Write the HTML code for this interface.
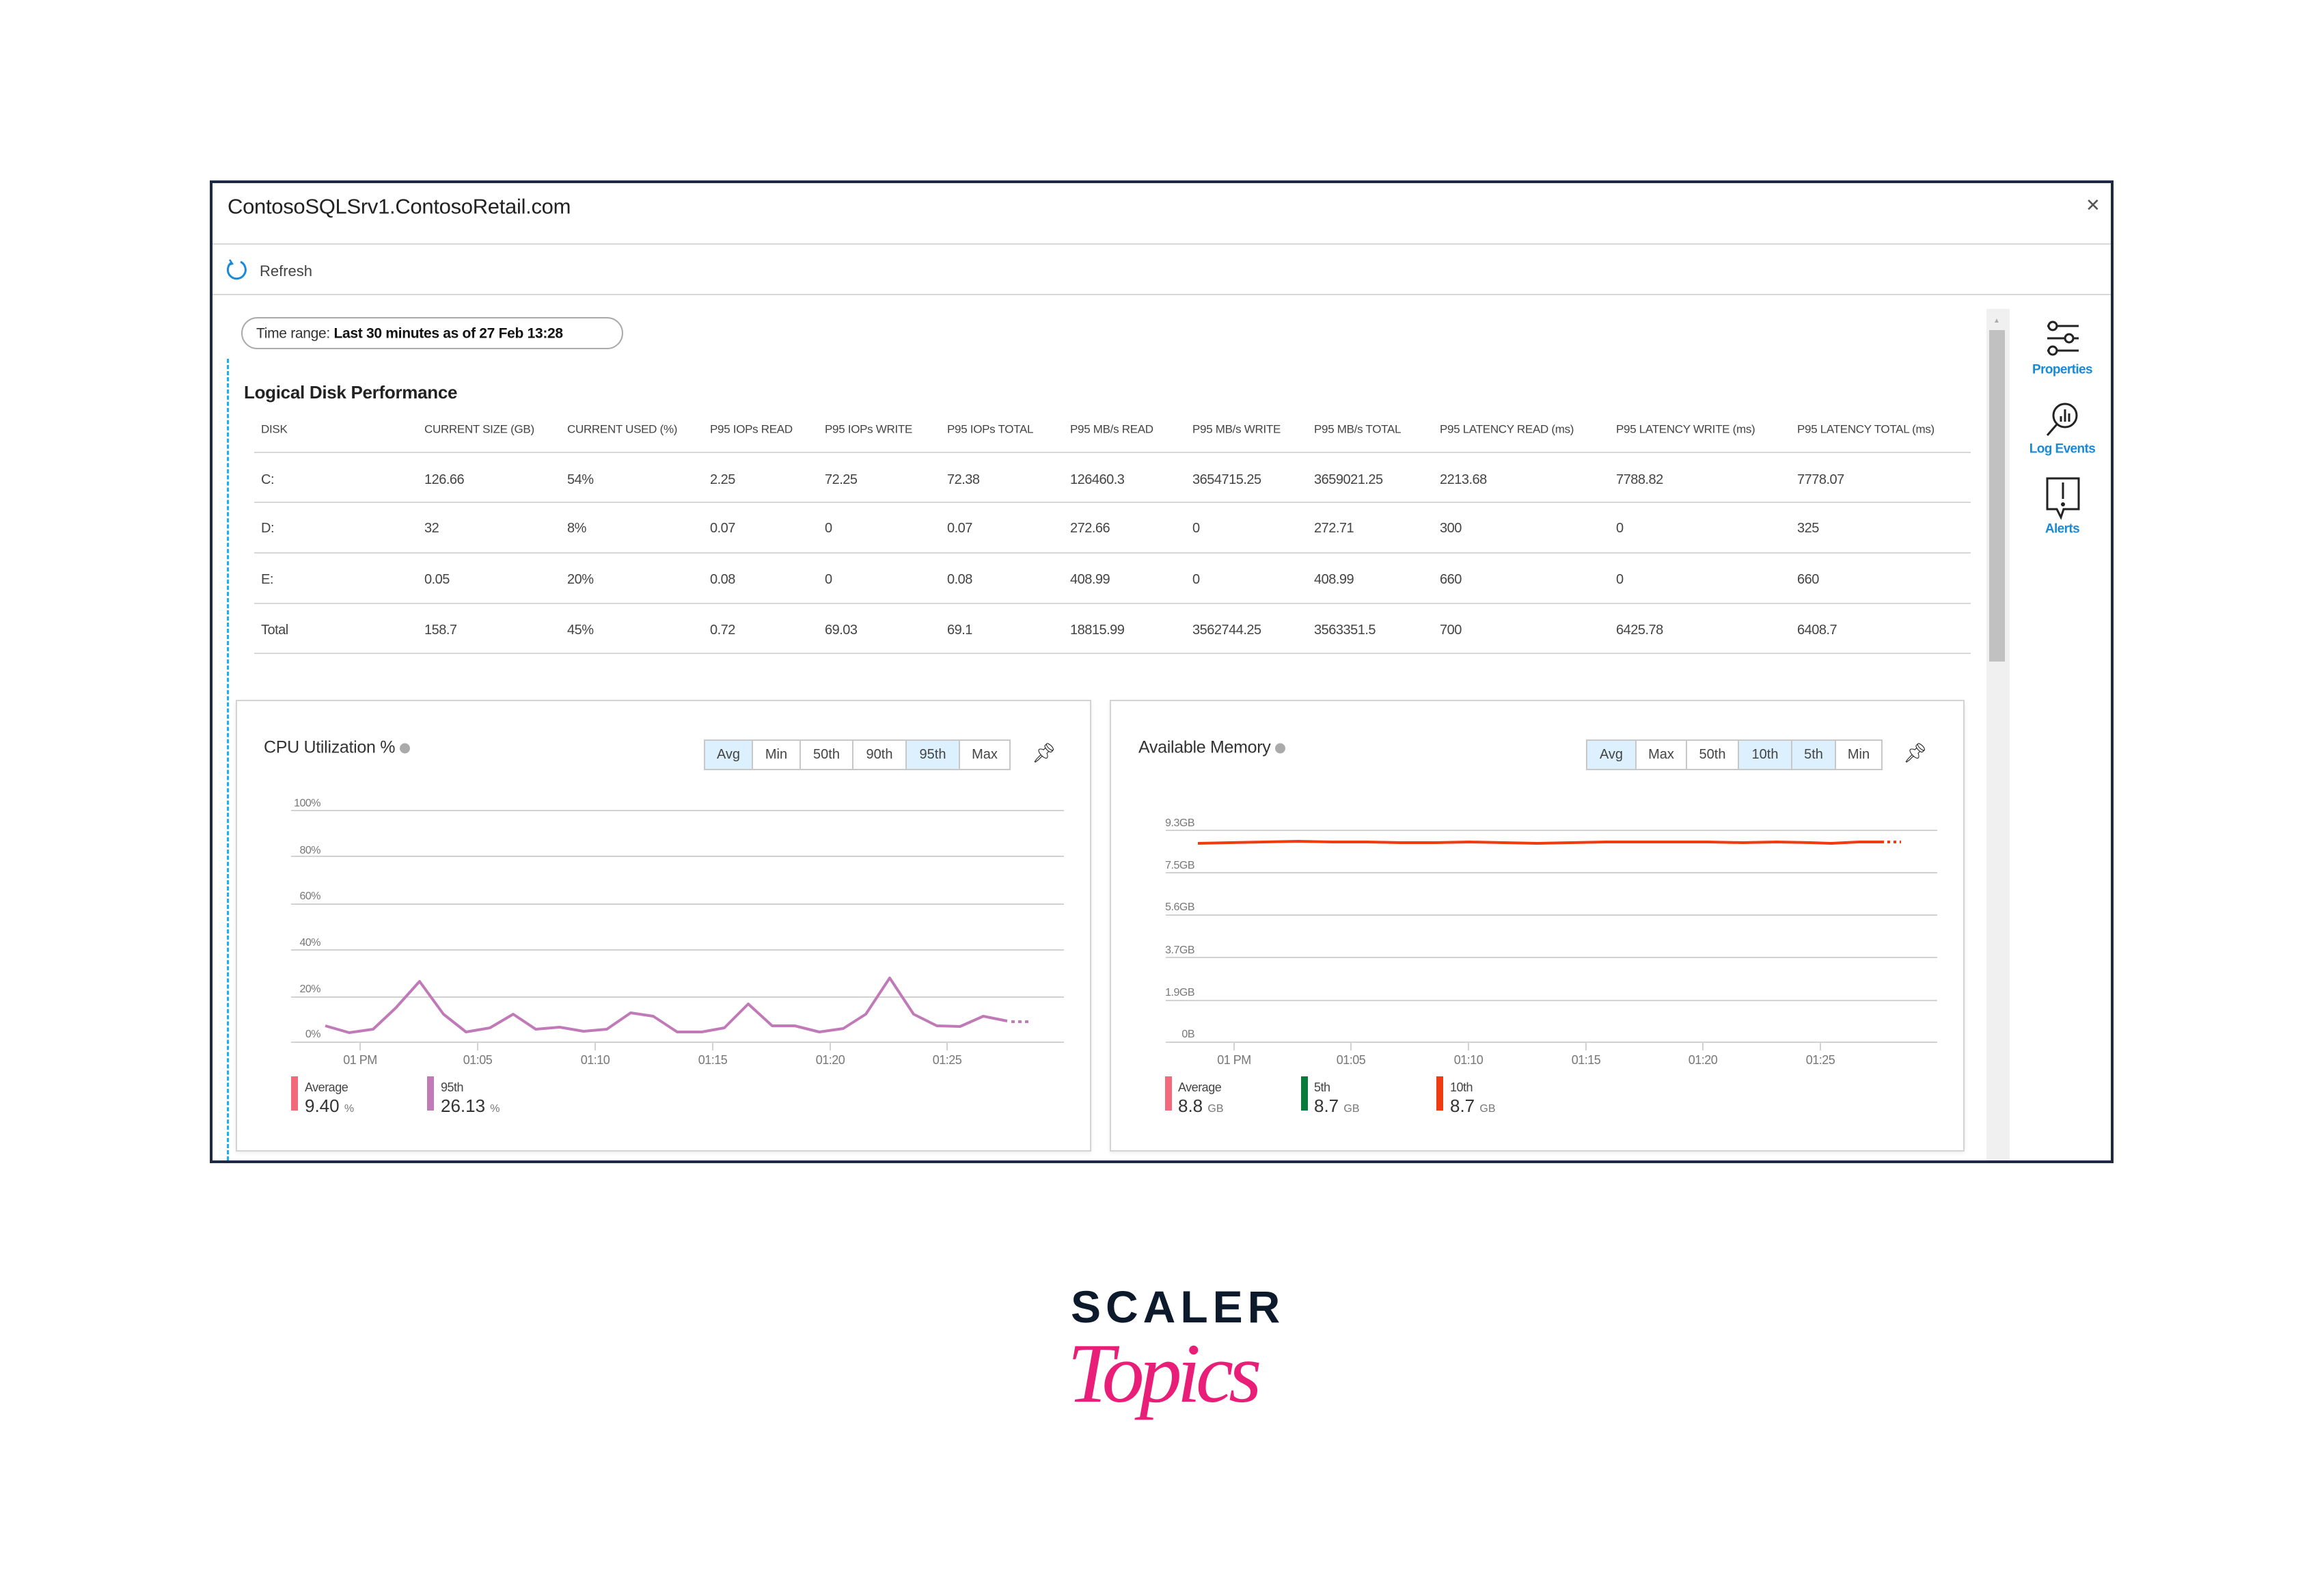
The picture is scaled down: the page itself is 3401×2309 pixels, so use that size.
<!DOCTYPE html>
<html><head><meta charset="utf-8"><style>
body{margin:0;width:3401px;height:2309px;background:#fff;position:relative;overflow:hidden;font-family:"Liberation Sans",sans-serif;color:#333}
.a{position:absolute}
.t{position:absolute;transform:translateY(-50%);white-space:nowrap;line-height:1}
.h{font-size:17px;color:#444;letter-spacing:-0.3px}
.r{font-size:20px;color:#444;letter-spacing:-0.5px}
.hl{position:absolute;height:2px;background:#d8d8d8}
.yl{font-size:16px;color:#777;text-align:right;width:80px;letter-spacing:-0.5px}
.xl{font-size:18px;color:#777;transform:translate(-50%,-50%);letter-spacing:-0.5px}
.btn{position:absolute;top:1082px;height:45px;border:2px solid #c8c8c8;box-sizing:border-box;font-size:20px;color:#444;text-align:center;line-height:41px;background:#fff}
.on{background:#dcf0fd}
</style></head><body>
<div class="a" style="left:307px;top:264px;width:2786px;height:1438px;border:4px solid #1e2a44;box-sizing:border-box"></div>
<div class="t" style="left:333px;top:302px;font-size:31px;color:#222;letter-spacing:-0.3px">ContosoSQLSrv1.ContosoRetail.com</div>
<div class="t" style="left:3052px;top:300px;font-size:26px;color:#555">&#x2715;</div>
<div class="hl" style="left:311px;top:356px;width:2778px"></div>
<svg class="a" style="left:330px;top:378px" width="34" height="34"><path d="M9 6 A13 13 0 1 0 22 5" fill="none" stroke="#1a8ad8" stroke-width="3"/><path d="M6 2 L10 8 L4 10" fill="none" stroke="#1a8ad8" stroke-width="2.5"/></svg>
<div class="t" style="left:380px;top:397px;font-size:22px;color:#444">Refresh</div>
<div class="hl" style="left:311px;top:430px;width:2778px"></div>
<div class="a" style="left:353px;top:464px;width:559px;height:47px;border:2px solid #aaa;border-radius:24px;box-sizing:border-box"></div>
<div class="t" style="left:375px;top:488px;font-size:21px;color:#333;letter-spacing:-0.3px">Time range: <b style="color:#111">Last 30 minutes as of 27 Feb 13:28</b></div>
<div class="a" style="left:332px;top:525px;height:1173px;border-left:3px dashed #1ab0f0"></div>
<div class="t" style="left:357px;top:574px;font-size:26px;font-weight:bold;color:#222;letter-spacing:-0.3px">Logical Disk Performance</div>
<div class="t h" style="left:382px;top:628px">DISK</div>
<div class="t h" style="left:621px;top:628px">CURRENT SIZE (GB)</div>
<div class="t h" style="left:830px;top:628px">CURRENT USED (%)</div>
<div class="t h" style="left:1039px;top:628px">P95 IOPs READ</div>
<div class="t h" style="left:1207px;top:628px">P95 IOPs WRITE</div>
<div class="t h" style="left:1386px;top:628px">P95 IOPs TOTAL</div>
<div class="t h" style="left:1566px;top:628px">P95 MB/s READ</div>
<div class="t h" style="left:1745px;top:628px">P95 MB/s WRITE</div>
<div class="t h" style="left:1923px;top:628px">P95 MB/s TOTAL</div>
<div class="t h" style="left:2107px;top:628px">P95 LATENCY READ (ms)</div>
<div class="t h" style="left:2365px;top:628px">P95 LATENCY WRITE (ms)</div>
<div class="t h" style="left:2630px;top:628px">P95 LATENCY TOTAL (ms)</div>
<div class="hl" style="left:372px;top:661px;width:2512px"></div>
<div class="hl" style="left:372px;top:734px;width:2512px"></div>
<div class="hl" style="left:372px;top:808px;width:2512px"></div>
<div class="hl" style="left:372px;top:882px;width:2512px"></div>
<div class="hl" style="left:372px;top:955px;width:2512px"></div>

<div class="t r" style="left:382px;top:702px">C:</div><div class="t r" style="left:621px;top:702px">126.66</div><div class="t r" style="left:830px;top:702px">54%</div><div class="t r" style="left:1039px;top:702px">2.25</div><div class="t r" style="left:1207px;top:702px">72.25</div><div class="t r" style="left:1386px;top:702px">72.38</div><div class="t r" style="left:1566px;top:702px">126460.3</div><div class="t r" style="left:1745px;top:702px">3654715.25</div><div class="t r" style="left:1923px;top:702px">3659021.25</div><div class="t r" style="left:2107px;top:702px">2213.68</div><div class="t r" style="left:2365px;top:702px">7788.82</div><div class="t r" style="left:2630px;top:702px">7778.07</div>
<div class="t r" style="left:382px;top:773px">D:</div><div class="t r" style="left:621px;top:773px">32</div><div class="t r" style="left:830px;top:773px">8%</div><div class="t r" style="left:1039px;top:773px">0.07</div><div class="t r" style="left:1207px;top:773px">0</div><div class="t r" style="left:1386px;top:773px">0.07</div><div class="t r" style="left:1566px;top:773px">272.66</div><div class="t r" style="left:1745px;top:773px">0</div><div class="t r" style="left:1923px;top:773px">272.71</div><div class="t r" style="left:2107px;top:773px">300</div><div class="t r" style="left:2365px;top:773px">0</div><div class="t r" style="left:2630px;top:773px">325</div>
<div class="t r" style="left:382px;top:848px">E:</div><div class="t r" style="left:621px;top:848px">0.05</div><div class="t r" style="left:830px;top:848px">20%</div><div class="t r" style="left:1039px;top:848px">0.08</div><div class="t r" style="left:1207px;top:848px">0</div><div class="t r" style="left:1386px;top:848px">0.08</div><div class="t r" style="left:1566px;top:848px">408.99</div><div class="t r" style="left:1745px;top:848px">0</div><div class="t r" style="left:1923px;top:848px">408.99</div><div class="t r" style="left:2107px;top:848px">660</div><div class="t r" style="left:2365px;top:848px">0</div><div class="t r" style="left:2630px;top:848px">660</div>
<div class="t r" style="left:382px;top:922px">Total</div><div class="t r" style="left:621px;top:922px">158.7</div><div class="t r" style="left:830px;top:922px">45%</div><div class="t r" style="left:1039px;top:922px">0.72</div><div class="t r" style="left:1207px;top:922px">69.03</div><div class="t r" style="left:1386px;top:922px">69.1</div><div class="t r" style="left:1566px;top:922px">18815.99</div><div class="t r" style="left:1745px;top:922px">3562744.25</div><div class="t r" style="left:1923px;top:922px">3563351.5</div><div class="t r" style="left:2107px;top:922px">700</div><div class="t r" style="left:2365px;top:922px">6425.78</div><div class="t r" style="left:2630px;top:922px">6408.7</div>

<div class="a" style="left:2907px;top:452px;width:34px;height:1246px;background:#f0f0f0"></div>
<div class="a" style="left:2911px;top:483px;width:23px;height:485px;background:#c1c1c1"></div>
<div class="t" style="left:2917px;top:470px;font-size:10px;color:#aaa">&#9650;</div>

<svg class="a" style="left:2990px;top:465px" width="60" height="300">
<g stroke="#222" stroke-width="3" fill="#fff">
<line x1="6" y1="12" x2="52" y2="12"/><line x1="6" y1="30" x2="52" y2="30"/><line x1="6" y1="48" x2="52" y2="48"/>
<circle cx="14" cy="12" r="6"/><circle cx="38" cy="30" r="6"/><circle cx="14" cy="48" r="6"/>
<circle cx="32" cy="143" r="17"/><line x1="20" y1="156" x2="6" y2="172"/>
<path d="M6 235 H52 V280 H30 L26 292 L20 280 H6 Z"/>
</g>
<g stroke="#222" stroke-width="3"><line x1="26" y1="152" x2="26" y2="144"/><line x1="32" y1="152" x2="32" y2="134"/><line x1="38" y1="152" x2="38" y2="140"/><line x1="29" y1="241" x2="29" y2="265"/></g>
<circle cx="29" cy="273" r="3" fill="#222"/>
</svg>
<div class="t" style="left:3018px;top:541px;font-size:19px;color:#1a8ad8;font-weight:bold;transform:translate(-50%,-50%);letter-spacing:-0.6px">Properties</div>
<div class="t" style="left:3018px;top:657px;font-size:19px;color:#1a8ad8;font-weight:bold;transform:translate(-50%,-50%);letter-spacing:-0.6px">Log Events</div>
<div class="t" style="left:3018px;top:774px;font-size:19px;color:#1a8ad8;font-weight:bold;transform:translate(-50%,-50%);letter-spacing:-0.6px">Alerts</div>

<div class="a" style="left:345px;top:1024px;width:1252px;height:661px;border:2px solid #d4d4d4;box-sizing:border-box;box-shadow:0 2px 6px rgba(0,0,0,0.08)"></div>
<div class="t" style="left:386px;top:1094px;font-size:25px;color:#333;letter-spacing:-0.3px">CPU Utilization % <span style="display:inline-block;width:15px;height:15px;border-radius:8px;background:#aaa;vertical-align:middle"></span></div>
<div class="btn on" style="left:1030px;width:72px">Avg</div>
<div class="btn" style="left:1100px;width:72px">Min</div>
<div class="btn" style="left:1170px;width:79px">50th</div>
<div class="btn" style="left:1247px;width:80px">90th</div>
<div class="btn on" style="left:1325px;width:80px">95th</div>
<div class="btn" style="left:1403px;width:76px">Max</div>
<div class="t" style="left:1510px;top:1102px;font-size:28px;color:#222">&#x1F4CC;&#xFE0E;</div>

<div class="t yl" style="left:389px;top:1176px">100%</div>
<div class="t yl" style="left:389px;top:1245px">80%</div>
<div class="t yl" style="left:389px;top:1312px">60%</div>
<div class="t yl" style="left:389px;top:1380px">40%</div>
<div class="t yl" style="left:389px;top:1448px">20%</div>
<div class="t yl" style="left:389px;top:1514px">0%</div>
<div class="t xl" style="left:527px;top:1551px">01 PM</div>
<div class="t xl" style="left:699px;top:1551px">01:05</div>
<div class="t xl" style="left:871px;top:1551px">01:10</div>
<div class="t xl" style="left:1043px;top:1551px">01:15</div>
<div class="t xl" style="left:1215px;top:1551px">01:20</div>
<div class="t xl" style="left:1386px;top:1551px">01:25</div>

<div class="a" style="left:1624px;top:1024px;width:1251px;height:661px;border:2px solid #d4d4d4;box-sizing:border-box;box-shadow:0 2px 6px rgba(0,0,0,0.08)"></div>
<div class="t" style="left:1666px;top:1094px;font-size:25px;color:#333;letter-spacing:-0.3px">Available Memory <span style="display:inline-block;width:15px;height:15px;border-radius:8px;background:#aaa;vertical-align:middle"></span></div>
<div class="btn on" style="left:2321px;width:74px">Avg</div>
<div class="btn" style="left:2393px;width:76px">Max</div>
<div class="btn" style="left:2467px;width:78px">50th</div>
<div class="btn on" style="left:2543px;width:80px">10th</div>
<div class="btn on" style="left:2621px;width:66px">5th</div>
<div class="btn" style="left:2685px;width:70px">Min</div>
<div class="t" style="left:2785px;top:1102px;font-size:28px;color:#222">&#x1F4CC;&#xFE0E;</div>

<div class="t yl" style="left:1668px;top:1205px">9.3GB</div>
<div class="t yl" style="left:1668px;top:1267px">7.5GB</div>
<div class="t yl" style="left:1668px;top:1328px">5.6GB</div>
<div class="t yl" style="left:1668px;top:1391px">3.7GB</div>
<div class="t yl" style="left:1668px;top:1453px">1.9GB</div>
<div class="t yl" style="left:1668px;top:1514px">0B</div>
<div class="t xl" style="left:1806px;top:1551px">01 PM</div>
<div class="t xl" style="left:1977px;top:1551px">01:05</div>
<div class="t xl" style="left:2149px;top:1551px">01:10</div>
<div class="t xl" style="left:2321px;top:1551px">01:15</div>
<div class="t xl" style="left:2492px;top:1551px">01:20</div>
<div class="t xl" style="left:2664px;top:1551px">01:25</div>

<svg class="a" style="left:0;top:0" width="3401" height="2309">
<g stroke="#d2d2d2" stroke-width="2">
<line x1="426" y1="1186" x2="1557" y2="1186"/><line x1="426" y1="1253" x2="1557" y2="1253"/><line x1="426" y1="1323" x2="1557" y2="1323"/><line x1="426" y1="1390" x2="1557" y2="1390"/><line x1="426" y1="1459" x2="1557" y2="1459"/><line x1="426" y1="1525" x2="1557" y2="1525"/>
<line x1="527" y1="1525" x2="527" y2="1537"/><line x1="699" y1="1525" x2="699" y2="1537"/><line x1="871" y1="1525" x2="871" y2="1537"/><line x1="1043" y1="1525" x2="1043" y2="1537"/><line x1="1215" y1="1525" x2="1215" y2="1537"/><line x1="1386" y1="1525" x2="1386" y2="1537"/>
<line x1="1706" y1="1215" x2="2835" y2="1215"/><line x1="1706" y1="1277" x2="2835" y2="1277"/><line x1="1706" y1="1339" x2="2835" y2="1339"/><line x1="1706" y1="1401" x2="2835" y2="1401"/><line x1="1706" y1="1464" x2="2835" y2="1464"/><line x1="1706" y1="1525" x2="2835" y2="1525"/>
<line x1="1806" y1="1525" x2="1806" y2="1537"/><line x1="1977" y1="1525" x2="1977" y2="1537"/><line x1="2149" y1="1525" x2="2149" y2="1537"/><line x1="2321" y1="1525" x2="2321" y2="1537"/><line x1="2492" y1="1525" x2="2492" y2="1537"/><line x1="2664" y1="1525" x2="2664" y2="1537"/>
</g>
<polyline fill="none" stroke="#c07ab8" stroke-width="4" stroke-linejoin="round" points="476,1501 511,1511 546,1506 579,1475 614,1436 649,1484 682,1510 717,1504 751,1484 784,1506 819,1503 854,1509 888,1506 923,1482 956,1487 991,1510 1027,1510 1060,1504 1095,1469 1130,1501 1163,1501 1199,1510 1234,1505 1267,1484 1302,1431 1337,1484 1371,1501 1405,1502 1439,1487 1474,1494"/>
<line x1="1480" y1="1495" x2="1505" y2="1495" stroke="#c07ab8" stroke-width="4" stroke-dasharray="5,5"/>
<polyline fill="none" stroke="#f03a10" stroke-width="4" points="1753,1234 1800,1233 1850,1232 1900,1231 1950,1232 2000,1232 2050,1233 2100,1233 2150,1232 2200,1233 2250,1234 2300,1233 2350,1232 2400,1232 2450,1232 2500,1232 2550,1233 2600,1232 2650,1233 2680,1234 2720,1232 2757,1232"/>
<line x1="2762" y1="1232" x2="2782" y2="1232" stroke="#f03a10" stroke-width="4" stroke-dasharray="4,5"/>
</svg>

<div class="a" style="left:426px;top:1575px;width:10px;height:50px;background:#f06a7c"></div>
<div class="t" style="left:446px;top:1591px;font-size:18px;color:#444;letter-spacing:-0.5px">Average</div>
<div class="t" style="left:446px;top:1618px;font-size:26px;color:#333">9.40 <span style="font-size:16px;color:#777">%</span></div>
<div class="a" style="left:625px;top:1575px;width:10px;height:50px;background:#c07ab8"></div>
<div class="t" style="left:645px;top:1591px;font-size:18px;color:#444;letter-spacing:-0.5px">95th</div>
<div class="t" style="left:645px;top:1618px;font-size:26px;color:#333">26.13 <span style="font-size:16px;color:#777">%</span></div>

<div class="a" style="left:1705px;top:1575px;width:10px;height:50px;background:#f06a7c"></div>
<div class="t" style="left:1724px;top:1591px;font-size:18px;color:#444;letter-spacing:-0.5px">Average</div>
<div class="t" style="left:1724px;top:1618px;font-size:26px;color:#333">8.8 <span style="font-size:16px;color:#777">GB</span></div>
<div class="a" style="left:1904px;top:1575px;width:10px;height:50px;background:#0a7a3c"></div>
<div class="t" style="left:1923px;top:1591px;font-size:18px;color:#444;letter-spacing:-0.5px">5th</div>
<div class="t" style="left:1923px;top:1618px;font-size:26px;color:#333">8.7 <span style="font-size:16px;color:#777">GB</span></div>
<div class="a" style="left:2102px;top:1575px;width:10px;height:50px;background:#f03a10"></div>
<div class="t" style="left:2122px;top:1591px;font-size:18px;color:#444;letter-spacing:-0.5px">10th</div>
<div class="t" style="left:2122px;top:1618px;font-size:26px;color:#333">8.7 <span style="font-size:16px;color:#777">GB</span></div>

<div class="t" style="left:1567px;top:1912px;font-size:66px;font-weight:bold;color:#0d1a2b;letter-spacing:7px">SCALER</div>
<div class="t" style="left:1562px;top:2010px;font-size:124px;font-style:italic;font-family:'Liberation Serif',serif;color:#e91e78;letter-spacing:-7px">Topics</div>
</body></html>
